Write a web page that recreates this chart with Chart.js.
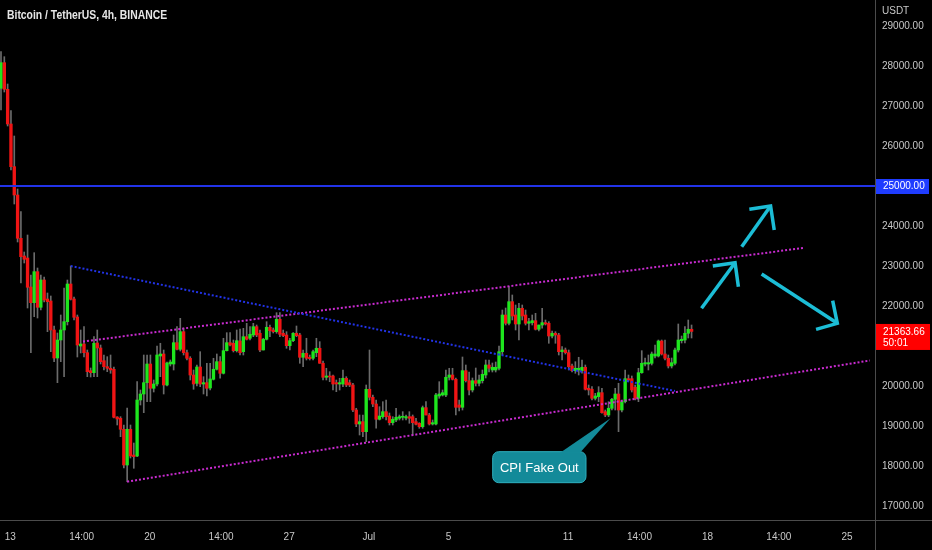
<!DOCTYPE html>
<html>
<head>
<meta charset="utf-8">
<script src="https://cdn.jsdelivr.net/npm/chart.js@4.4.1/dist/chart.umd.min.js"></script>
<style>
  html, body { margin: 0; padding: 0; background: #000; }
  #wrap { position: relative; width: 932px; height: 550px; }
  #title { position: absolute; left: 7px; top: 8px; color: #e6e6e6; font: bold 12px "Liberation Sans", sans-serif; line-height: 14px; white-space: nowrap; transform-origin: 0 0; }
</style>
</head>
<body>
<div id="wrap">
  <canvas id="c" width="932" height="550"></canvas>
  <div id="title">Bitcoin / TetherUS, 4h, BINANCE</div>
</div>
<script>
// BTCUSDT 4h candles (index 0 = first visible bar)
const opens = [
  27442,28083,27418,26550,25483,24775,23693,23250,23200,22475,
  22083,22858,21968,22650,22175,22125,21400,20700,21150,21400,
  21608,22550,22175,21725,21000,21050,20833,20383,20333,21075,
  20950,20633,20483,20443,20418,19225,19193,18918,18025,18918,
  18275,18250,19650,19800,20083,20550,19943,20050,20750,20800,
  20025,20550,20550,21083,20918,21358,20833,20693,20275,20068,
  20475,20050,20083,19950,20168,20418,20608,20318,20883,21083,
  21068,20883,21125,20858,21233,21193,21275,21483,21318,20900,
  21168,21468,21400,21358,21668,21318,21275,21008,21133,21318,
  21275,20718,20818,20718,20693,20833,20943,20568,20218,20250,
  20250,20083,20050,20050,20193,20083,20025,19400,19050,19108,
  18858,19918,19718,19550,19168,19233,19358,19250,19083,19150,
  19193,19218,19200,19233,19233,19108,19068,18983,19458,19275,
  19050,19050,19750,19775,19775,20218,20275,20168,19525,19468,
  20383,20133,19900,20133,20068,20133,20275,20525,20400,20400,
  20443,20858,21775,21568,22108,21775,21550,21943,21775,21568,
  21583,21633,21418,21525,21583,21568,21250,21318,21275,20858,
  20900,20833,20500,20383,20400,20383,20468,19943,19918,19693,
  19733,19833,19358,19275,19443,19668,19800,19400,19608,20183,
  20183,19968,19693,20333,20550,20550,20568,20750,20750,21125,
  20800,20693,20500,20568,20900,21133,21150,21318,21418
];
const highs = [
  28358,28233,27550,26883,26250,24925,24358,23350,23775,22775,
  23333,22950,22775,22725,22325,22250,21500,21325,21775,22450,
  22650,23000,22225,21775,21400,21483,20900,20450,21233,21400,
  21025,20775,20733,20775,20475,19233,19233,19025,19450,19025,
  18575,20108,19900,20775,20775,20775,20150,21000,21068,20900,
  20600,20650,21275,21483,21692,21450,20900,20733,20400,20525,
  20858,20233,20568,20568,20693,20800,20733,21193,21333,21333,
  21150,21400,21425,21442,21567,21483,21567,21525,21400,21193,
  21608,21525,21450,21833,21833,21400,21358,21193,21333,21500,
  21318,20900,21193,20775,20900,21193,21108,20625,20443,20358,
  20275,20150,20193,20400,20233,20150,20068,19443,19275,19275,
  20025,20900,19775,19650,19483,19608,19650,19325,19233,19443,
  19275,19358,19275,19358,19275,19193,19083,19500,19608,19318,
  19150,19817,20108,19900,20400,20443,20443,20200,19650,20725,
  20525,20350,20200,20450,20275,20400,20650,20650,20575,20600,
  21000,21900,21950,22483,22275,22025,22067,22025,21900,21692,
  21775,21817,21525,21942,21650,21608,21375,21358,21318,20983,
  20950,20900,20550,20608,20718,20650,20525,20025,19983,19817,
  19983,19943,19400,19608,19693,19943,20068,19650,20400,20275,
  20250,20025,20443,20883,20700,20775,20850,21025,21150,21150,
  21150,20775,20700,20950,21550,21250,21483,21650,21525
];
const lows = [
  26900,27350,26500,25400,24550,23600,22575,23075,21950,20833,
  21733,21700,21900,22100,21358,20858,20608,20083,20608,20233,
  21525,22150,21650,20725,20825,20725,20233,20225,20233,20233,
  20550,20400,20358,20318,19200,19025,18733,17950,17608,18200,
  17943,18233,19525,19333,19608,19608,19850,20000,20233,19800,
  20000,20500,20400,20900,20875,20775,20650,20150,19918,20000,
  19983,19800,19750,19900,20150,20400,20193,20300,20875,21000,
  20850,20850,20775,20775,21150,21150,21233,21233,20858,20900,
  21150,21233,21325,21318,21233,21233,20943,20900,21108,21233,
  20568,20483,20650,20650,20650,20733,20568,20150,20150,20108,
  19900,19858,19900,19983,19983,19983,19358,18983,18775,18733,
  18608,19650,19483,18943,19150,19193,19150,19025,19025,19108,
  19150,19150,19150,19068,18775,19025,18943,18943,19275,19025,
  19025,19025,19693,19750,19733,20150,20150,19275,19375,19400,
  20100,19775,19850,20000,20000,20075,20200,20350,20350,20350,
  20400,20775,21525,21525,21650,21400,21150,21650,21525,21400,
  21525,21400,21375,21443,21525,21068,21200,21068,20775,20650,
  20800,20400,20350,20318,20275,20318,19900,19775,19650,19650,
  19608,19318,19233,19233,19400,19400,18858,19350,19575,20125,
  19850,19650,19608,20318,20500,20400,20525,20700,20725,20775,
  20650,20450,20450,20525,20850,21075,21075,21200,21200
];
const closes = [
  28083,27418,26550,25483,24775,23693,23233,23168,22468,22083,
  22858,21968,22650,22150,22108,21400,20700,21150,21400,21608,
  22550,22168,21718,21025,21050,20833,20358,20333,21068,20950,
  20608,20483,20443,20400,19218,19175,18918,18025,18918,18250,
  18233,19650,19800,20083,20550,19943,20050,20775,20800,20025,
  20575,20600,21083,20918,21358,20833,20693,20275,20050,20475,
  20050,20083,19943,20175,20418,20608,20318,20883,21083,21025,
  20883,21133,20833,21233,21168,21293,21483,21275,20900,21168,
  21468,21383,21358,21668,21293,21258,21008,21133,21318,21258,
  20718,20818,20693,20683,20858,20943,20568,20218,20250,20225,
  20050,20050,20083,20193,20025,20025,19400,19050,19108,18858,
  19918,19718,19550,19168,19250,19358,19233,19083,19168,19218,
  19233,19233,19233,19193,19083,19043,18983,19458,19275,19050,
  19083,19775,19800,19833,20218,20275,20168,19468,19468,20383,
  20133,19900,20133,20068,20150,20293,20525,20443,20468,20468,
  20858,21775,21568,22108,21750,21550,21943,21750,21568,21608,
  21633,21418,21525,21583,21550,21250,21318,21275,20858,20900,
  20833,20483,20383,20443,20443,20468,19918,19900,19693,19750,
  19833,19333,19275,19443,19668,19800,19400,19608,20183,20150,
  19900,19693,20333,20568,20583,20583,20800,20800,21125,20800,
  20693,20500,20583,20900,21150,21168,21318,21418,21364
];
const lastPrice = 21363.66;
const countdown = '50:01';
const keyLevel = 25000;

// time axis (positions in bar units) and price axis ticks
const tickPos = [2.8, 24.3, 44.8, 66.3, 86.8, 110.8, 134.8, 170.8, 192.3, 212.8, 234.3, 254.8];
const tickText = ['13', '14:00', '20', '14:00', '27', 'Jul', '5', '11', '14:00', '18', '14:00', '25'];
const priceTicks = [17000, 18000, 19000, 20000, 21000, 22000, 23000, 24000, 25000, 26000, 27000, 28000, 29000];

// drawings: [bar index, price]
const blueTrend = [[21, 23000], [203, 19875]];
const channelTop = [[24.7, 21112], [241.6, 23450]];
const channelBottom = [[38, 17608], [261.7, 20638]];
const arrowUp1 = [[211.0, 21942], [221.1, 23083]];
const arrowUp1Head = [[214.4, 23000], [221.1, 23083], [222.1, 22483]];
const arrowUp2 = [[223.1, 23483], [231.8, 24500]];
const arrowUp2Head = [[225.4, 24417], [231.8, 24500], [232.9, 23900]];
const arrowDown = [[229.1, 22800], [251.9, 21567]];
const arrowDownHead = [[245.5, 21417], [251.9, 21567], [250.5, 22133]];
const callout = { text: 'CPI Fake Out', left: 148.1, right: 176.2, top: 18358, bottom: 17583, base: [168.4, 174.4], tip: [183.6, 19193] };

const X_MIN = -0.3, X_MAX = 263.25;
const GREEN = '#1ee61e', RED = '#f01414', WICK = '#6b6b6b';
const CYAN = '#1cbdd6', MAGENTA = '#c92bd0', BLUE = '#2233e8';
const AXIS_FONT = { family: '"Liberation Sans", sans-serif', size: 10 };

const pts = arr => arr.map(([x, y]) => ({ x, y }));
const lineDs = (arr, color, width, dash, order) => ({
  type: 'line', data: pts(arr), borderColor: color, borderWidth: width, borderDash: dash || [],
  pointRadius: 0, fill: false, tension: 0, order, borderCapStyle: 'butt', borderJoinStyle: 'miter'
});

const wickData = opens.map((_, i) => ({ x: i, y: [lows[i], highs[i]] }));
const bodyData = opens.map((o, i) => ({ x: i, y: [o, closes[i]] }));
const bodyColors = opens.map((o, i) => closes[i] >= o ? GREEN : RED);

const overlay = {
  id: 'overlay',
  afterDatasetsDraw(chart) {
    const { ctx, scales: { x, y } } = chart;
    // callout box
    const l = x.getPixelForValue(callout.left), r = x.getPixelForValue(callout.right);
    const t = y.getPixelForValue(callout.top), b = y.getPixelForValue(callout.bottom);
    ctx.save();
    ctx.fillStyle = '#138a99';
    ctx.strokeStyle = '#2fb0bf';
    ctx.lineWidth = 1;
    ctx.beginPath();
    ctx.roundRect(l, t, r - l, b - t, 6);
    ctx.fill();
    ctx.stroke();
    ctx.beginPath();
    ctx.moveTo(x.getPixelForValue(callout.base[0]), t + 1);
    ctx.lineTo(x.getPixelForValue(callout.tip[0]), y.getPixelForValue(callout.tip[1]));
    ctx.lineTo(x.getPixelForValue(callout.base[1]), t + 1);
    ctx.closePath();
    ctx.fill();
    ctx.fillStyle = '#ffffff';
    ctx.font = '13px "Liberation Sans", sans-serif';
    ctx.textAlign = 'center';
    ctx.textBaseline = 'middle';
    ctx.fillText(callout.text, (l + r) / 2, (t + b) / 2 + 1);
    ctx.restore();
  },
  afterDraw(chart) {
    const { ctx, chartArea: a, scales: { y }, width, height } = chart;
    ctx.save();
    // pane separators
    ctx.strokeStyle = '#4b4b4b';
    ctx.lineWidth = 1;
    ctx.beginPath();
    ctx.moveTo(0, a.bottom + 0.5); ctx.lineTo(width, a.bottom + 0.5);
    ctx.moveTo(a.right + 0.5, 0); ctx.lineTo(a.right + 0.5, height);
    ctx.stroke();
    ctx.font = '10px ' + AXIS_FONT.family;
    ctx.textBaseline = 'middle';
    ctx.textAlign = 'left';
    ctx.fillStyle = '#c8c8c8';
    ctx.fillText('USDT', a.right + 7, 11);
    // key level tag
    const ky = y.getPixelForValue(keyLevel);
    ctx.fillStyle = '#1f3cff';
    ctx.fillRect(a.right + 1, ky - 7, 53, 15);
    ctx.fillStyle = '#ffffff';
    ctx.fillText(keyLevel.toFixed(2), a.right + 8, ky + 0.5);
    // last price tag
    const py = y.getPixelForValue(lastPrice);
    ctx.fillStyle = '#ff0000';
    ctx.fillRect(a.right + 1, py - 7.5, 54, 26);
    ctx.fillStyle = '#ffffff';
    ctx.fillText(lastPrice.toFixed(2), a.right + 8, py + 0.5);
    ctx.fillText(countdown, a.right + 8, py + 12);
    ctx.restore();
  }
};

new Chart(document.getElementById('c'), {
  type: 'bar',
  data: {
    datasets: [
      lineDs([[X_MIN, keyLevel], [X_MAX, keyLevel]], BLUE, 2, null, 1),
      lineDs(blueTrend, BLUE, 2, [2, 2], 1),
      lineDs(channelTop, MAGENTA, 2, [2, 2], 1),
      lineDs(channelBottom, MAGENTA, 2, [2, 2], 1),
      lineDs(arrowUp1, CYAN, 3.5, null, 0),
      lineDs(arrowUp1Head, CYAN, 3.5, null, 0),
      lineDs(arrowUp2, CYAN, 3.5, null, 0),
      lineDs(arrowUp2Head, CYAN, 3.5, null, 0),
      lineDs(arrowDown, CYAN, 3.5, null, 0),
      lineDs(arrowDownHead, CYAN, 3.5, null, 0),
      { data: bodyData, backgroundColor: bodyColors, barThickness: 2.7, minBarLength: 1, grouped: false, borderWidth: 0, order: 2 },
      { data: wickData, backgroundColor: WICK, barThickness: 1, grouped: false, borderWidth: 0, order: 3 }
    ]
  },
  options: {
    responsive: false,
    animation: false,
    events: [],
    layout: { padding: 0 },
    plugins: { legend: { display: false }, tooltip: { enabled: false }, title: { display: false } },
    scales: {
      x: {
        type: 'linear', min: X_MIN, max: X_MAX, offset: false,
        grid: { display: false, drawTicks: false },
        border: { display: false },
        afterBuildTicks: s => { s.ticks = tickPos.map(v => ({ value: v })); },
        afterFit: s => { s.height = 30; s.paddingLeft = 0; s.paddingRight = 0; },
        ticks: { autoSkip: false, maxRotation: 0, padding: 11, color: '#c8c8c8', font: AXIS_FONT,
          callback: (v, i) => tickText[i] }
      },
      y: {
        position: 'right', min: 16650, max: 29650,
        grid: { display: false, drawTicks: false },
        border: { display: false },
        afterBuildTicks: s => { s.ticks = priceTicks.map(v => ({ value: v })); },
        afterFit: s => { s.width = 57; s.paddingTop = 0; s.paddingBottom = 0; },
        ticks: { padding: 7, color: '#c8c8c8', font: AXIS_FONT, callback: v => v.toFixed(2) }
      }
    }
  },
  plugins: [overlay]
});

// squeeze the legend line to the width it has in the screenshot
const title = document.getElementById('title');
title.style.transform = 'scaleX(' + (160 / title.offsetWidth).toFixed(3) + ')';
</script>
</body>
</html>
